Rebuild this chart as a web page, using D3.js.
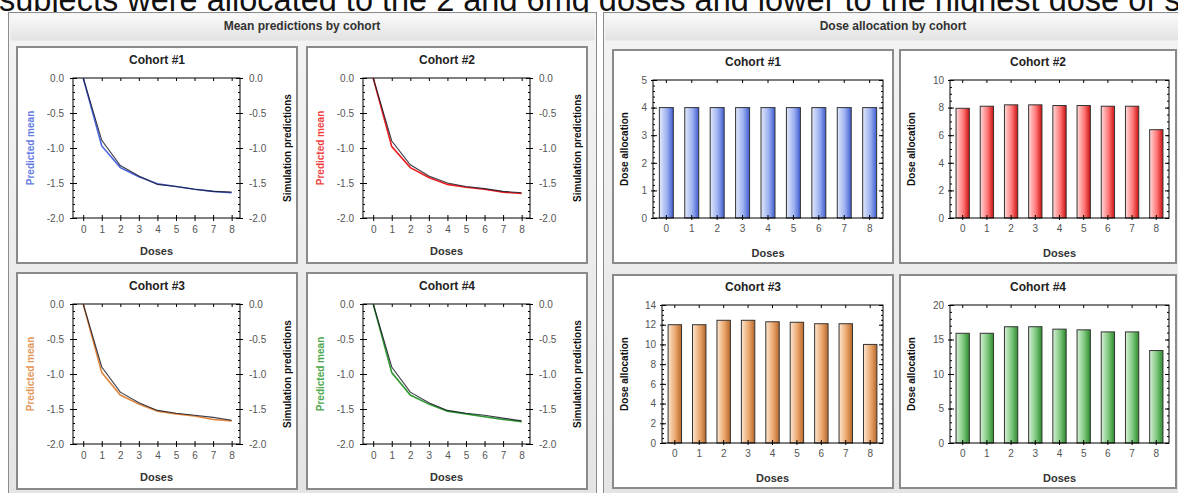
<!DOCTYPE html>
<html><head><meta charset="utf-8">
<script src="https://cdn.jsdelivr.net/npm/d3@7"></script>
<style>
html,body{margin:0;padding:0;background:#fff;overflow:hidden}
svg{display:block;font-family:"Liberation Sans",Arial,sans-serif}
</style></head><body>
<svg id="c" width="1178" height="493"></svg>
<script>
// ---------- DATA ----------
const doses = [0,1,2,3,4,5,6,7,8];
const doseLabels = ["0","1","2","3","4","5","6","7","8"];
const cohortNames = ["Cohort #1","Cohort #2","Cohort #3","Cohort #4"];
const meanTicks = [0,-0.5,-1,-1.5,-2];
const meanTickLabels = ["0.0","-0.5","-1.0","-1.5","-2.0"];

const pred1 = [0,-0.97,-1.28,-1.41,-1.51,-1.55,-1.59,-1.62,-1.64];
const sim1  = [0,-0.89,-1.25,-1.40,-1.52,-1.55,-1.59,-1.62,-1.63];
const pred2 = [0,-0.98,-1.28,-1.42,-1.52,-1.56,-1.59,-1.63,-1.65];
const sim2  = [0,-0.90,-1.24,-1.40,-1.50,-1.55,-1.58,-1.62,-1.64];
const pred3 = [0,-0.98,-1.30,-1.43,-1.53,-1.57,-1.60,-1.65,-1.67];
const sim3  = [0,-0.90,-1.26,-1.41,-1.52,-1.56,-1.59,-1.62,-1.66];
const pred4 = [0,-0.98,-1.30,-1.43,-1.53,-1.57,-1.61,-1.65,-1.68];
const sim4  = [0,-0.90,-1.26,-1.41,-1.52,-1.56,-1.59,-1.63,-1.67];

const alloc1 = [4,4,4,4,4,4,4,4,4];
const alloc2 = [7.95,8.1,8.2,8.2,8.15,8.15,8.1,8.1,6.4];
const alloc3 = [12.0,12.0,12.45,12.45,12.3,12.25,12.1,12.1,10.0];
const alloc4 = [15.9,15.9,16.85,16.85,16.5,16.4,16.1,16.1,13.4];

const allocMax = [5,10,14,20];
const allocTicks1 = [0,1,2,3,4,5];
const allocTicks2 = [0,2,4,6,8,10];
const allocTicks3 = [0,2,4,6,8,10,12,14];
const allocTicks4 = [0,5,10,15,20];

// ---------- STYLE ----------
const colors = ["#4a66e0","#ee1c1c","#e0873e","#2e9a2e"];
const grad = [
  ["#e3e9fc","#9bb0f0","#3f5bd0"],
  ["#ffdada","#ff7777","#cc1010"],
  ["#fde6d2","#eaa66c","#b8682a"],
  ["#d8f0d8","#7cc77c","#2c8a2c"]
];

const svg = d3.select("#c");
const defs = svg.append("defs");
grad.forEach((g,i)=>{
  const lg = defs.append("linearGradient").attr("id","bg"+i).attr("x1","0").attr("x2","1").attr("y1","0").attr("y2","0");
  lg.append("stop").attr("offset","0").attr("stop-color",g[0]);
  lg.append("stop").attr("offset","0.55").attr("stop-color",g[1]);
  lg.append("stop").attr("offset","1").attr("stop-color",g[2]);
});
const pg = defs.append("linearGradient").attr("id","panelg").attr("x1","0").attr("x2","0").attr("y1","0").attr("y2","1");
pg.append("stop").attr("offset","0").attr("stop-color","#f4f4f4");
pg.append("stop").attr("offset","1").attr("stop-color","#e4e4e4");
const tg = defs.append("linearGradient").attr("id","titleg").attr("x1","0").attr("x2","0").attr("y1","0").attr("y2","1");
tg.append("stop").attr("offset","0").attr("stop-color","#fafafa");
tg.append("stop").attr("offset","1").attr("stop-color","#e2e2e2");

// top caption, cut off by the top edge as in the reference
svg.append("text").attr("x",-1).attr("y",11).attr("font-size",32.5)
  .attr("fill","#111").attr("font-family","Liberation Sans, Arial")
  .text("subjects were allocated to the 2 and 6mg doses and lower to the highest dose of st");

function outerPanel(x,y,w,h,title){
  svg.append("rect").attr("x",x+0.5).attr("y",y+0.5).attr("width",w).attr("height",h)
    .attr("fill","url(#panelg)").attr("stroke","#8c8c8c").attr("stroke-width",1);
  svg.append("rect").attr("x",x+2.5).attr("y",y+2.5).attr("width",w-4).attr("height",26)
    .attr("fill","url(#titleg)").attr("stroke","none");
  svg.append("text").attr("x",x+w/2).attr("y",y+18).attr("text-anchor","middle")
    .attr("font-size",12).attr("font-weight","bold").attr("fill","#333").text(title);
}
function subBox(b){
  svg.append("rect").attr("x",b.x).attr("y",b.y).attr("width",b.w).attr("height",b.h)
    .attr("fill","#fff").attr("stroke","#8a8a8a").attr("stroke-width",2);
}
function styleAxis(g){
  g.select(".domain").remove();
  g.selectAll(".tick line").attr("stroke","#000");
  g.selectAll(".tick text").attr("fill","#555").attr("font-size",10);
}

outerPanel(8,12,588,490,"Mean predictions by cohort");
outerPanel(603,12,580,490,"Dose allocation by cohort");

const preds=[pred1,pred2,pred3,pred4], sims=[sim1,sim2,sim3,sim4];
const lineBoxes=[{x:17,y:47},{x:307,y:47},{x:17,y:273},{x:307,y:273}];

lineBoxes.forEach((bb,i)=>{
  const b={x:bb.x,y:bb.y,w:280,h:216};
  subBox(b);
  const pl=b.x+56, pr=b.x+b.w-57, pt=b.y+31, pb=b.y+171;
  const x=d3.scaleLinear().domain([-0.55,8.45]).range([pl,pr]);
  const y=d3.scaleLinear().domain([-2,0]).range([pb,pt]);
  svg.append("text").attr("x",b.x+b.w/2).attr("y",b.y+17).attr("text-anchor","middle")
    .attr("font-size",12).attr("font-weight","bold").attr("fill","#222").text(cohortNames[i]);
  const minor=d3.range(-20,1).map(v=>v/10);
  svg.append("g").attr("transform",`translate(${pl},0)`).call(d3.axisRight(y).tickValues(minor).tickSize(2).tickFormat("")).call(styleAxis);
  svg.append("g").attr("transform",`translate(${pr},0)`).call(d3.axisLeft(y).tickValues(minor).tickSize(2).tickFormat("")).call(styleAxis);
  svg.append("g").attr("transform",`translate(${pl},0)`).call(d3.axisLeft(y).tickValues(meanTicks).tickSize(3).tickPadding(6).tickFormat((d,k)=>meanTickLabels[k])).call(styleAxis);
  svg.append("g").attr("transform",`translate(${pl},0)`).call(d3.axisRight(y).tickValues(meanTicks).tickSize(4).tickFormat("")).call(styleAxis);
  svg.append("g").attr("transform",`translate(${pr},0)`).call(d3.axisRight(y).tickValues(meanTicks).tickSize(3).tickPadding(6).tickFormat((d,k)=>meanTickLabels[k])).call(styleAxis);
  svg.append("g").attr("transform",`translate(${pr},0)`).call(d3.axisLeft(y).tickValues(meanTicks).tickSize(4).tickFormat("")).call(styleAxis);
  svg.append("g").attr("transform",`translate(0,${pb})`).call(d3.axisBottom(x).tickValues(doses).tickSize(3).tickPadding(5).tickFormat((d,k)=>doseLabels[k])).call(styleAxis);
  svg.append("g").attr("transform",`translate(0,${pb})`).call(d3.axisTop(x).tickValues(doses).tickSize(3).tickFormat("")).call(styleAxis);
  svg.append("g").attr("transform",`translate(0,${pt})`).call(d3.axisBottom(x).tickValues(doses).tickSize(3).tickFormat("")).call(styleAxis);
  svg.append("rect").attr("x",pl).attr("y",pt).attr("width",pr-pl).attr("height",pb-pt)
    .attr("fill","none").attr("stroke","#000").attr("stroke-width",1);
  const line=d3.line().x((d,k)=>x(doses[k])).y(d=>y(d));
  svg.append("path").datum(preds[i]).attr("d",line).attr("fill","none").attr("stroke",colors[i]).attr("stroke-width",1.6);
  svg.append("path").datum(sims[i]).attr("d",line).attr("fill","none").attr("stroke","#1a1a2a").attr("stroke-width",1.1).attr("opacity",0.85);
  svg.append("text").attr("x",(pl+pr)/2).attr("y",pb+37).attr("text-anchor","middle")
    .attr("font-size",11).attr("font-weight","bold").attr("fill","#333").text("Doses");
  svg.append("text").attr("transform",`translate(${b.x+17},${(pt+pb)/2}) rotate(-90)`).attr("text-anchor","middle")
    .attr("font-size",10).attr("font-weight","bold").attr("fill",colors[i]).attr("opacity",0.85).text("Predicted mean");
  svg.append("text").attr("transform",`translate(${b.x+b.w-6},${(pt+pb)/2}) rotate(-90)`).attr("text-anchor","middle")
    .attr("font-size",10).attr("font-weight","bold").attr("fill","#111").text("Simulation predictions");
});

const allocs=[alloc1,alloc2,alloc3,alloc4];
const allocTicks=[allocTicks1,allocTicks2,allocTicks3,allocTicks4];
const allocMinor=[0.2,0.5,0.5,1];
const barBoxes=[
  {x:613,y:50,w:280,h:213,ml:40,mr:10},
  {x:900,y:50,w:276,h:213,ml:50,mr:7},
  {x:613,y:275,w:280,h:213,ml:49,mr:10},
  {x:900,y:275,w:276,h:213,ml:50,mr:7}
];
barBoxes.forEach((b,i)=>{
  subBox(b);
  const pl=b.x+b.ml, pr=b.x+b.w-b.mr, pt=b.y+30, pb=b.y+168;
  const x=d3.scaleBand().domain(doses).range([pl,pr]).paddingInner(0.45).paddingOuter(0.25);
  const y=d3.scaleLinear().domain([0,allocMax[i]]).range([pb,pt]);
  svg.append("text").attr("x",b.x+b.w/2).attr("y",b.y+16).attr("text-anchor","middle")
    .attr("font-size",12).attr("font-weight","bold").attr("fill","#222").text(cohortNames[i]);
  svg.selectAll(null).data(allocs[i]).enter().append("rect")
    .attr("x",(d,k)=>x(doses[k])).attr("width",x.bandwidth())
    .attr("y",d=>y(d)).attr("height",d=>pb-y(d))
    .attr("fill",`url(#bg${i})`).attr("stroke","#333").attr("stroke-width",1);
  const minor=d3.range(0,allocMax[i]+1e-9,allocMinor[i]);
  svg.append("g").attr("transform",`translate(${pl},0)`).call(d3.axisRight(y).tickValues(minor).tickSize(2).tickFormat("")).call(styleAxis);
  svg.append("g").attr("transform",`translate(${pr},0)`).call(d3.axisLeft(y).tickValues(minor).tickSize(2).tickFormat("")).call(styleAxis);
  svg.append("g").attr("transform",`translate(${pl},0)`).call(d3.axisLeft(y).tickValues(allocTicks[i]).tickSize(2).tickPadding(4).tickFormat(d3.format("d"))).call(styleAxis);
  svg.append("g").attr("transform",`translate(${pl},0)`).call(d3.axisRight(y).tickValues(allocTicks[i]).tickSize(4).tickFormat("")).call(styleAxis);
  svg.append("g").attr("transform",`translate(${pr},0)`).call(d3.axisLeft(y).tickValues(allocTicks[i]).tickSize(4).tickFormat("")).call(styleAxis);
  svg.append("g").attr("transform",`translate(0,${pb})`).call(d3.axisBottom(x).tickSize(2).tickPadding(5).tickFormat((d,k)=>doseLabels[k])).call(styleAxis);
  svg.append("g").attr("transform",`translate(0,${pb})`).call(d3.axisTop(x).tickSize(3).tickFormat("")).call(styleAxis);
  svg.append("g").attr("transform",`translate(0,${pt})`).call(d3.axisBottom(x).tickSize(3).tickFormat("")).call(styleAxis);
  svg.append("rect").attr("x",pl).attr("y",pt).attr("width",pr-pl).attr("height",pb-pt)
    .attr("fill","none").attr("stroke","#000").attr("stroke-width",1);
  svg.append("text").attr("x",(pl+pr)/2).attr("y",pb+39).attr("text-anchor","middle")
    .attr("font-size",11).attr("font-weight","bold").attr("fill","#333").text("Doses");
  svg.append("text").attr("transform",`translate(${b.x+15},${(pt+pb)/2}) rotate(-90)`).attr("text-anchor","middle")
    .attr("font-size",10).attr("font-weight","bold").attr("fill","#111").text("Dose allocation");
});
</script></body></html>
